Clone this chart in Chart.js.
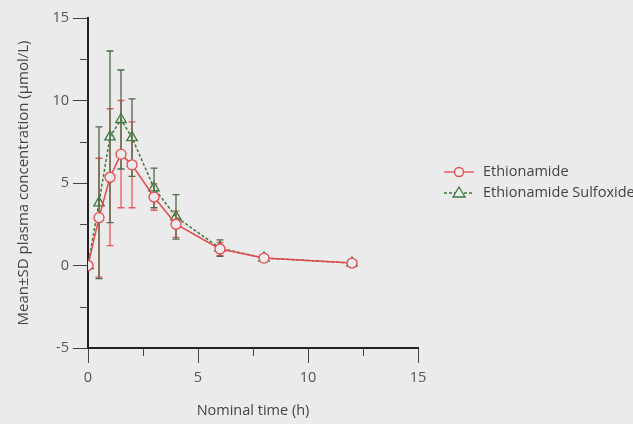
<!DOCTYPE html>
<html>
<head>
<meta charset="utf-8">
<script src="https://cdn.jsdelivr.net/npm/chart.js@4"></script>
<style>
  html, body { margin: 0; padding: 0; background: #ebebeb; }
  #wrap { width: 633px; height: 424px; position: relative; }
</style>
</head>
<body>
<div id="wrap"><canvas id="pk"></canvas></div>
<script>
// nominal time (h)
const times = [0, 0.5, 1, 1.5, 2, 3, 4, 6, 8, 12];

// Ethionamide mean / SD
const ethMean = [0, 2.9, 5.35, 6.75, 6.1, 4.15, 2.5, 1.0, 0.45, 0.15];
const ethSD   = [0, 3.6, 4.15, 3.25, 2.6, 0.8, 0.8, 0.4, 0.15, 0.1];

// Ethionamide Sulfoxide mean / SD
const sulMean = [0, 3.8, 7.8, 8.85, 7.75, 4.7, 2.95, 1.05, 0.45, 0.15];
const sulSD   = [0, 4.6, 5.2, 3.0, 2.35, 1.2, 1.35, 0.5, 0.2, 0.15];

const xTicks = [0, 5, 10, 15];
const yTicks = [-5, 0, 5, 10, 15];
const minorTicks = [2.5, 7.5, 12.5];
const yMinorTicks = [-2.5, 2.5, 7.5, 12.5];

const RED = '#e8494c';
const RED_ERR = '#ea5a5a';
const GREEN = '#3e7a3e';
const GREEN_ERR = '#4c6a48';
const BG = '#ebebeb';
const FONT = '"Open Sans", "Noto Sans", sans-serif';

const toPts = (m) => times.map((t, i) => ({ x: t, y: m[i] }));

// vertical SD bars with caps
const errorBars = {
  id: 'errorBars',
  beforeDatasetsDraw(chart) {
    const { ctx, scales: { x, y } } = chart;
    const sets = [[ethMean, ethSD, RED_ERR], [sulMean, sulSD, GREEN_ERR]];
    ctx.save();
    ctx.lineWidth = 1.3;
    sets.forEach(([m, sd, col]) => {
      ctx.strokeStyle = col;
      times.forEach((t, i) => {
        if (!sd[i]) return;
        const px = x.getPixelForValue(t);
        const top = y.getPixelForValue(m[i] + sd[i]);
        const bot = y.getPixelForValue(m[i] - sd[i]);
        ctx.beginPath();
        ctx.moveTo(px, top); ctx.lineTo(px, bot);
        ctx.moveTo(px - 3.5, top); ctx.lineTo(px + 3.5, top);
        ctx.moveTo(px - 3.5, bot); ctx.lineTo(px + 3.5, bot);
        ctx.stroke();
      });
    });
    ctx.restore();
  }
};

// short minor ticks on both axes + legend on the right
const extras = {
  id: 'extras',
  afterDraw(chart) {
    const { ctx, scales: { x, y }, chartArea: ca } = chart;
    ctx.save();
    ctx.strokeStyle = '#444';
    ctx.lineWidth = 1;
    minorTicks.forEach(v => {
      const px = Math.round(x.getPixelForValue(v)) + 0.5;
      ctx.beginPath(); ctx.moveTo(px, ca.bottom); ctx.lineTo(px, ca.bottom + 8); ctx.stroke();
    });
    yMinorTicks.forEach(v => {
      const py = Math.round(y.getPixelForValue(v)) + 0.5;
      ctx.beginPath(); ctx.moveTo(ca.left, py); ctx.lineTo(ca.left - 8, py); ctx.stroke();
    });

    // legend
    const items = [
      { label: 'Ethionamide', col: RED, dash: [], shape: 'circle', y: 172 },
      { label: 'Ethionamide Sulfoxide', col: GREEN, dash: [3, 2], shape: 'triangle', y: 193 }
    ];
    items.forEach(it => {
      ctx.strokeStyle = it.col;
      ctx.lineWidth = 1.3;
      ctx.setLineDash(it.dash);
      ctx.beginPath(); ctx.moveTo(444, it.y); ctx.lineTo(474, it.y); ctx.stroke();
      ctx.setLineDash([]);
      ctx.fillStyle = BG;
      ctx.beginPath();
      if (it.shape === 'circle') {
        ctx.arc(459, it.y, 4.5, 0, Math.PI * 2);
      } else {
        ctx.moveTo(459, it.y - 6); ctx.lineTo(465, it.y + 4); ctx.lineTo(453, it.y + 4); ctx.closePath();
      }
      ctx.fill(); ctx.stroke();
      ctx.fillStyle = '#444';
      ctx.font = '14.5px ' + FONT;
      ctx.textBaseline = 'middle';
      ctx.fillText(it.label, 483, it.y);
    });
    ctx.restore();
  }
};

new Chart(document.getElementById('pk'), {
  type: 'line',
  data: {
    datasets: [
      {
        label: 'Ethionamide',
        data: toPts(ethMean),
        borderColor: RED,
        borderWidth: 1.5,
        pointStyle: 'circle',
        pointRadius: 5,
        pointBorderWidth: 1.3,
        pointBorderColor: RED,
        pointBackgroundColor: BG,
        tension: 0
      },
      {
        label: 'Ethionamide Sulfoxide',
        data: toPts(sulMean),
        borderColor: GREEN,
        borderWidth: 1.5,
        borderDash: [3, 2],
        pointStyle: 'triangle',
        pointRadius: 6,
        pointBorderWidth: 1.3,
        pointBorderColor: GREEN,
        pointBackgroundColor: 'rgba(0,0,0,0)',
        tension: 0
      }
    ]
  },
  options: {
    responsive: true,
    maintainAspectRatio: false,
    animation: false,
    layout: { padding: { top: 18, right: 215, left: 0, bottom: 0 } },
    plugins: { legend: { display: false }, tooltip: { enabled: false } },
    scales: {
      x: {
        type: 'linear',
        min: 0, max: 15,
        afterBuildTicks: (s) => { s.ticks = xTicks.map(v => ({ value: v })); },
        afterFit: (s) => { s.height = 76; },
        border: { color: '#222', width: 2 },
        grid: { drawOnChartArea: false, tickLength: 15, color: '#444', lineWidth: 1 },
        ticks: { color: '#555', font: { family: FONT, size: 14.5 }, padding: 6, maxRotation: 0 },
        title: { display: true, text: 'Nominal time (h)', color: '#444', font: { family: FONT, size: 14.5 }, padding: { top: 8 } }
      },
      y: {
        type: 'linear',
        min: -5, max: 15,
        afterBuildTicks: (s) => { s.ticks = yTicks.map(v => ({ value: v })); },
        afterFit: (s) => { s.width = 88; },
        border: { color: '#222', width: 2 },
        grid: { drawOnChartArea: false, tickLength: 15, color: '#444', lineWidth: 1 },
        ticks: { color: '#555', font: { family: FONT, size: 14.5 }, padding: 4 },
        title: { display: true, text: 'Mean±SD plasma concentration (µmol/L)', color: '#444', font: { family: FONT, size: 15 }, padding: { top: 15, bottom: 4 } }
      }
    }
  },
  plugins: [errorBars, extras]
});
</script>
</body>
</html>
